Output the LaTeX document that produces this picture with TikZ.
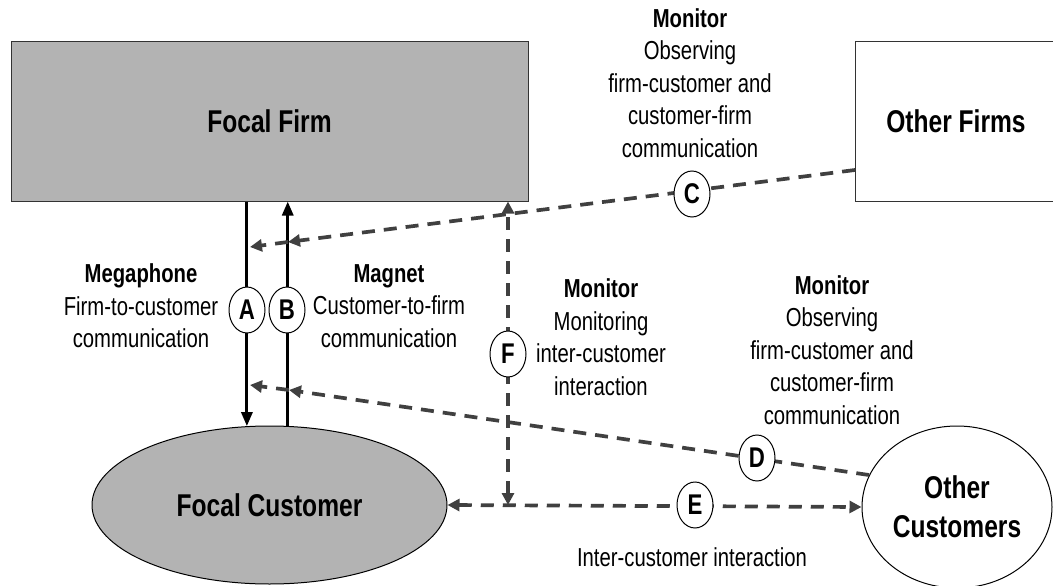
\documentclass[tikz,border=0pt]{standalone}
\usepackage{fontspec}
\setmainfont{Liberation Sans}[FakeStretch=0.78]
\usetikzlibrary{arrows.meta,shapes.geometric}
\definecolor{boxgray}{RGB}{179,179,179}
\definecolor{dashgray}{RGB}{64,64,64}
\begin{document}
\begin{tikzpicture}[x=1pt,y=-1pt,
  lbl/.style={align=center,font=\fontsize{26}{32.5}\selectfont,inner sep=0pt},
  big/.style={font=\fontsize{31.5}{39}\selectfont\bfseries},
  firmbox/.style={draw=black!80,line width=1pt,rectangle,inner sep=0pt},
  custshape/.style={ellipse,draw=black,line width=1pt,inner sep=0pt},
  letter/.style={ellipse,draw=black,line width=1pt,fill=white,minimum width=36pt,minimum height=46pt,inner sep=0pt,font=\fontsize{28.5}{30}\selectfont\bfseries},
  solidarrow/.style={line width=3pt,-{Triangle[length=14pt,width=11pt]}},
  dashline/.style={dashgray,line width=3.7pt,dash pattern=on 13pt off 9pt},
  dasharrow/.style={dashline,-{Triangle[length=12pt,width=12pt]}},
  dboth/.style={dashline,{Triangle[length=12pt,width=12pt]}-{Triangle[length=12pt,width=12pt]}},
]
\useasboundingbox (0,0) rectangle (1053,586);
% main shapes
\node[firmbox,fill=boxgray,minimum width=517pt,minimum height=159pt,big] (ff) at (269.5,121.5) {Focal Firm};
\node[firmbox,fill=white,minimum width=202pt,minimum height=159pt,big] (of) at (956,121.5) {Other Firms};
\node[custshape,fill=boxgray,minimum width=355pt,minimum height=158pt,big] (fc) at (269.5,505) {Focal Customer};
\node[custshape,fill=white,minimum width=190pt,minimum height=162pt,big,align=center] (oc) at (957,507) {Other\\Customers};
% named points
\coordinate (cS) at (855,170);
\coordinate (cB) at (288,242);
\coordinate (cA) at (250,247);
\coordinate (dB) at (289,390);
\coordinate (dA) at (250,385);
\coordinate (fJ) at (508,505);
% connectors
\draw[solidarrow] (ff.south -| fc.106) -- (fc.106);
\draw[solidarrow] (fc.77) -- (ff.south -| fc.77);
\draw[dasharrow] (cS) -- (cB);
\draw[dasharrow] (cB) -- (cA);
\draw[dasharrow] (oc.160) -- (dB);
\draw[dasharrow] (dB) -- (dA);
\draw[dboth] (fc.east) -- (oc.west);
\draw[dboth] (fJ) -- (ff.south -| fJ);
% letters
\node[letter] (la) at (247,310) {A};
\node[letter] (lb) at (287,310) {B};
\node[letter] (lc) at (692,194) {C};
\node[letter] (ld) at (757,458) {D};
\node[letter] (le) at (695,505) {E};
\node[letter] (lf) at (508,354) {F};
% labels
\node[lbl] (tmega) at (141,306) {\textbf{Megaphone}\\Firm-to-customer\\communication};
\node[lbl] (tmag) at (389,306) {\textbf{Magnet}\\Customer-to-firm\\communication};
\node[lbl] (tmonc) at (690,83) {\textbf{Monitor}\\Observing\\firm-customer and\\customer-firm\\communication};
\node[lbl] (tmonf) at (601,337) {\textbf{Monitor}\\Monitoring\\inter-customer\\interaction};
\node[lbl] (tmond) at (832,350) {\textbf{Monitor}\\Observing\\firm-customer and\\customer-firm\\communication};
\node[lbl] (tinter) at (692,557) {Inter-customer interaction};
\end{tikzpicture}
\end{document}
